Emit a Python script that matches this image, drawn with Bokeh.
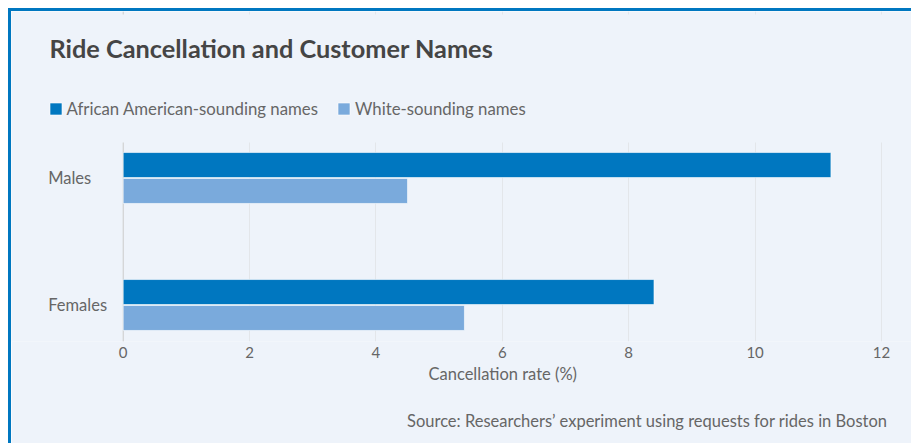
from bokeh.plotting import figure
from bokeh.models import (ColumnDataSource, Range1d, FixedTicker, Label, LabelSet,
                          BoxAnnotation, Legend, LegendItem, Span, Title)
from bokeh.core.properties import value
from bokeh.transform import dodge
from bokeh.embed import file_html
from bokeh.resources import INLINE

# ---- data ----
categories = ["Males", "Females"]
african_american = [11.2, 8.4]
white_names = [4.5, 5.4]
series_names = ["African American-sounding names", "White-sounding names"]
x_ticks = [0, 2, 4, 6, 8, 10, 12]
title_text = "Ride Cancellation and Customer Names"
x_title = "Cancellation rate (%)"
source_text = "Source: Researchers\u2019 experiment using requests for rides in Boston"

# ---- styles / layout ----
FONT = "Lato"
BG = "#eef3fa"
DARK = "#0077c0"
LIGHT = "#7aaadc"
TEXT = "#666666"
OFF = 11                      # white margin + blue border (CSS)
W, H = 914 - OFF, 446 - OFF   # canvas size
FRAME_BOTTOM = 330            # canvas px
X0_PX, PX_PER_X = 111.7, 63.19
Y1_PX, PX_PER_Y = 166.5, 127.0
GRID_TOP = 128

positions = [len(categories) - 1 - i for i in range(len(categories))]
src = ColumnDataSource(dict(cat=categories, pos=positions,
                            aa=african_american, wh=white_names))

p = figure(width=W, height=H, output_backend="svg", toolbar_location=None,
           x_range=Range1d(-X0_PX / PX_PER_X, (W - X0_PX) / PX_PER_X),
           y_range=Range1d(-(FRAME_BOTTOM - Y1_PX - PX_PER_Y) / PX_PER_Y,
                           1 + Y1_PX / PX_PER_Y),
           min_border_left=0, min_border_right=0,
           min_border_top=0, min_border_bottom=H - FRAME_BOTTOM)
p.styles = {"margin-left": "8px", "margin-top": "8px",
            "border-left": "3px solid " + DARK, "border-top": "3px solid " + DARK}
p.background_fill_color = BG
p.border_fill_color = BG
p.outline_line_color = None

r1 = p.hbar(y=dodge("pos", 0.102), right="aa", left=0, height=0.197, source=src,
            fill_color=DARK, line_color="white", line_width=1, line_alpha=0.6)
r2 = p.hbar(y=dodge("pos", -0.102), right="wh", left=0, height=0.197, source=src,
            fill_color=LIGHT, line_color="white", line_width=1, line_alpha=0.6)

# x axis
p.xaxis.ticker = FixedTicker(ticks=x_ticks)
p.xaxis.axis_line_color = None
p.xaxis.major_tick_line_color = None
p.xaxis.minor_tick_line_color = None
p.xaxis.major_tick_out = 0
p.xaxis.major_tick_in = 0
p.xaxis.major_label_text_font = FONT
p.xaxis.major_label_text_font_size = "15px"
p.xaxis.major_label_text_color = TEXT
p.xaxis.major_label_standoff = 5
p.yaxis.visible = False

# axis title, centred under the plot area
p.add_layout(Title(text=x_title, align="left", offset=417, standoff=2,
                   text_font=FONT, text_font_size="16.5px", text_font_style="normal",
                   text_color=TEXT), "below")

p.xgrid.grid_line_color = "#e3e6ea"
p.xgrid.ticker = FixedTicker(ticks=x_ticks)
p.ygrid.grid_line_color = None

# zero line (category axis line)
p.add_layout(Span(location=0, dimension="height", line_color="#cfcfcf",
                  line_width=1, level="underlay"))
# hide grid above the plot area
p.add_layout(BoxAnnotation(top=0, bottom=GRID_TOP, left=0, right=W,
                           top_units="canvas", bottom_units="canvas",
                           left_units="canvas", right_units="canvas",
                           fill_color=BG, fill_alpha=1, line_color=None))

# category labels (left aligned)
p.add_layout(LabelSet(x=0, y="pos", text="cat", source=src, x_offset=-75, y_offset=0,
                      text_align="left", text_baseline="middle",
                      text_font=value(FONT), text_font_size=value("16.5px"),
                      text_color=TEXT))

# title
p.add_layout(Label(x=35, y=33, x_units="canvas", y_units="canvas", text=title_text,
                   text_font=FONT, text_font_size="25.3px", text_font_style="bold",
                   text_color="#454545", text_baseline="middle", text_align="left"))

legend = Legend(items=[LegendItem(label=series_names[0], renderers=[r1]),
                       LegendItem(label=series_names[1], renderers=[r2])],
                orientation="horizontal", location=(36.5, 222),
                glyph_width=15, glyph_height=15, label_height=12,
                label_standoff=4, spacing=18, padding=0, margin=0,
                label_text_font=FONT, label_text_font_size="16.8px",
                label_text_color=TEXT, border_line_color=None,
                background_fill_alpha=0)
p.add_layout(legend, "center")

# source note
p.add_layout(Title(text=source_text, align="right", offset=27, standoff=0,
                   padding=dict(left=0, right=0, top=24, bottom=0),
                   text_font=FONT, text_font_size="16.5px", text_font_style="normal",
                   text_color=TEXT), "below")

open("out.html", "w").write(file_html(p, INLINE))
